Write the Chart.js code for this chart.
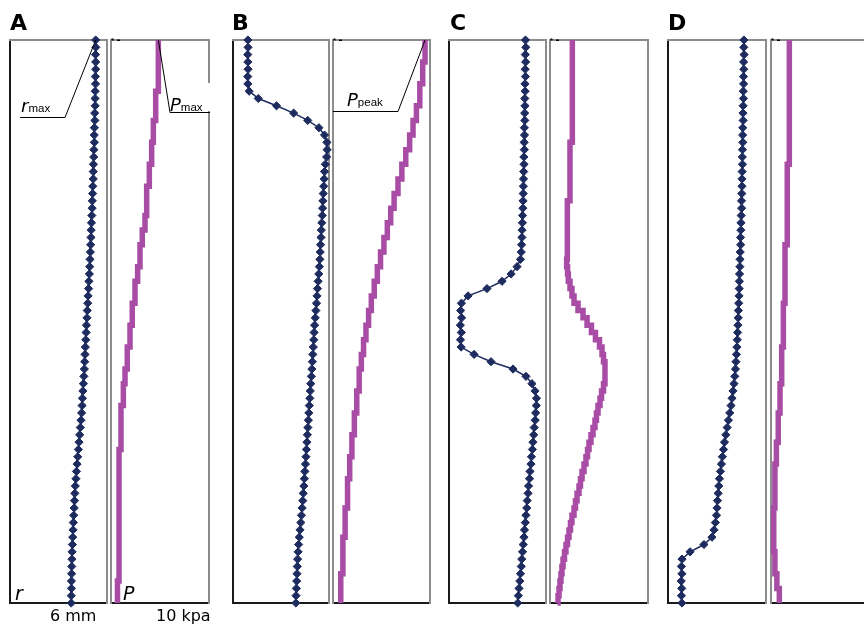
<!DOCTYPE html>
<html>
<head>
<meta charset="utf-8">
<script src="https://cdn.jsdelivr.net/npm/chart.js@4.4.1/dist/chart.umd.min.js"></script>
<style>
  html, body { margin: 0; padding: 0; background: #fff; }
  body { width: 864px; height: 628px; position: relative; overflow: hidden; font-family: 'DejaVu Sans', Verdana, sans-serif; }
  canvas { position: absolute; }
  .txt { position: absolute; line-height: 1; white-space: nowrap; color: #000; }
  .panel { font-weight: bold; }
  .var { font-style: italic; }
  .sub { font-family: 'Liberation Sans', Arial, sans-serif; font-size: 11.5px; font-style: normal; }
  .cover { position: absolute; background: #fff; }
</style>
</head>
<body>
<script>
// === Data (depth steps from top of segment to bottom) ===
const DEPTH_STEPS = Array.from({ length: 78 }, (_, i) => i);

// radius profiles, mm
const A_R = [
  5.30, 5.31, 5.29, 5.30, 5.30, 5.28, 5.29, 5.27, 5.26, 5.27,
  5.24, 5.25, 5.22, 5.21, 5.22, 5.19, 5.18, 5.16, 5.15, 5.15,
  5.12, 5.11, 5.09, 5.08, 5.06, 5.04, 5.02, 5.01, 4.99, 4.97,
  4.95, 4.93, 4.91, 4.88, 4.86, 4.83, 4.81, 4.78, 4.76, 4.73,
  4.71, 4.69, 4.66, 4.64, 4.62, 4.60, 4.57, 4.54, 4.51, 4.48,
  4.46, 4.43, 4.39, 4.35, 4.31, 4.27, 4.23, 4.19, 4.15, 4.11,
  4.08, 4.04, 4.01, 3.99, 3.97, 3.94, 3.92, 3.90, 3.88, 3.86,
  3.84, 3.83, 3.82, 3.81, 3.80, 3.80, 3.79, 3.79
];
const B_R = [
  0.93, 0.94, 0.92, 0.93, 0.94, 0.92, 0.93, 1.01, 1.58, 2.72,
  3.79, 4.67, 5.37, 5.72, 5.87, 5.88, 5.85, 5.77, 5.72, 5.70,
  5.67, 5.64, 5.62, 5.60, 5.58, 5.55, 5.52, 5.50, 5.47, 5.45,
  5.43, 5.40, 5.36, 5.32, 5.28, 5.25, 5.22, 5.18, 5.14, 5.10,
  5.07, 5.05, 5.02, 4.99, 4.96, 4.93, 4.90, 4.86, 4.83, 4.80,
  4.77, 4.74, 4.71, 4.68, 4.65, 4.62, 4.59, 4.56, 4.53, 4.49,
  4.46, 4.43, 4.39, 4.36, 4.32, 4.28, 4.24, 4.19, 4.14, 4.10,
  4.07, 4.04, 4.02, 4.00, 3.98, 3.96, 3.94, 3.93
];
const C_R = [
  4.73, 4.75, 4.72, 4.74, 4.71, 4.73, 4.70, 4.71, 4.69, 4.70,
  4.68, 4.69, 4.66, 4.67, 4.65, 4.66, 4.63, 4.64, 4.62, 4.61,
  4.60, 4.59, 4.58, 4.57, 4.55, 4.54, 4.52, 4.51, 4.49, 4.47,
  4.42, 4.21, 3.84, 3.28, 2.35, 1.18, 0.77, 0.72, 0.78, 0.70,
  0.76, 0.71, 0.75, 1.55, 2.60, 3.96, 4.76, 5.13, 5.32, 5.41,
  5.40, 5.36, 5.33, 5.27, 5.24, 5.19, 5.16, 5.10, 5.07, 5.01,
  4.98, 4.92, 4.89, 4.84, 4.81, 4.76, 4.72, 4.67, 4.64, 4.59,
  4.55, 4.50, 4.47, 4.42, 4.38, 4.33, 4.29, 4.25
];
const D_R = [
  4.65, 4.64, 4.66, 4.63, 4.64, 4.62, 4.63, 4.61, 4.62, 4.60,
  4.59, 4.60, 4.58, 4.57, 4.58, 4.56, 4.55, 4.56, 4.54, 4.53,
  4.53, 4.52, 4.50, 4.51, 4.48, 4.47, 4.46, 4.44, 4.45, 4.42,
  4.41, 4.40, 4.38, 4.37, 4.36, 4.35, 4.33, 4.31, 4.30, 4.28,
  4.26, 4.24, 4.22, 4.19, 4.16, 4.13, 4.09, 4.04, 3.98, 3.92,
  3.86, 3.78, 3.70, 3.62, 3.54, 3.46, 3.40, 3.33, 3.27, 3.21,
  3.15, 3.11, 3.07, 3.03, 3.00, 2.97, 2.90, 2.82, 2.69, 2.20,
  1.35, 0.86, 0.82, 0.85, 0.81, 0.84, 0.82, 0.85
];

// pressure profiles, kPa
const A_P = [
  4.83, 4.83, 4.83, 4.83, 4.83, 4.83, 4.83, 4.56, 4.56, 4.56,
  4.56, 4.32, 4.32, 4.32, 4.15, 4.15, 4.15, 3.91, 3.91, 3.91,
  3.64, 3.64, 3.64, 3.64, 3.47, 3.47, 3.19, 3.19, 2.96, 2.96,
  2.96, 2.72, 2.72, 2.45, 2.45, 2.45, 2.17, 2.17, 2.17, 1.94,
  1.94, 1.94, 1.66, 1.66, 1.66, 1.43, 1.43, 1.26, 1.26, 1.26,
  1.02, 1.02, 1.02, 1.02, 1.02, 1.02, 0.82, 0.82, 0.82, 0.82,
  0.82, 0.82, 0.82, 0.82, 0.82, 0.82, 0.82, 0.82, 0.82, 0.82,
  0.82, 0.82, 0.82, 0.82, 0.66, 0.66, 0.66, 0.66
];
const B_P = [
  9.49, 9.49, 9.49, 9.25, 9.25, 9.25, 8.95, 8.95, 8.95, 8.60,
  8.60, 8.25, 8.25, 7.90, 7.90, 7.50, 7.50, 7.10, 7.10, 6.70,
  6.70, 6.30, 6.30, 5.95, 5.95, 5.60, 5.60, 5.25, 5.25, 4.90,
  4.90, 4.57, 4.57, 4.25, 4.25, 3.95, 3.95, 3.67, 3.67, 3.40,
  3.40, 3.15, 3.15, 2.92, 2.92, 2.70, 2.70, 2.70, 2.45, 2.45,
  2.45, 2.20, 2.20, 2.20, 1.95, 1.95, 1.95, 1.72, 1.72, 1.72,
  1.50, 1.50, 1.50, 1.50, 1.25, 1.25, 1.25, 1.25, 1.02, 1.02,
  1.02, 1.02, 1.02, 0.80, 0.80, 0.80, 0.80, 0.80
];
const C_P = [
  2.28, 2.28, 2.28, 2.28, 2.28, 2.28, 2.28, 2.28, 2.28, 2.28,
  2.28, 2.28, 2.28, 2.28, 2.04, 2.04, 2.04, 2.04, 2.04, 2.04,
  2.04, 2.04, 1.77, 1.77, 1.77, 1.77, 1.77, 1.77, 1.77, 1.77,
  1.70, 1.79, 1.87, 2.04, 2.24, 2.45, 2.86, 3.37, 3.78, 4.23,
  4.64, 5.05, 5.31, 5.46, 5.61, 5.61, 5.61, 5.46, 5.26, 5.10,
  4.90, 4.74, 4.59, 4.39, 4.18, 3.98, 3.83, 3.67, 3.47, 3.27,
  3.11, 2.96, 2.76, 2.60, 2.45, 2.24, 2.09, 1.94, 1.79, 1.63,
  1.48, 1.33, 1.22, 1.12, 1.02, 0.92, 0.82, 0.77
];
const D_P = [
  1.87, 1.87, 1.87, 1.87, 1.87, 1.87, 1.87, 1.87, 1.87, 1.87,
  1.87, 1.87, 1.87, 1.87, 1.87, 1.87, 1.87, 1.66, 1.66, 1.66,
  1.66, 1.66, 1.66, 1.66, 1.66, 1.66, 1.66, 1.66, 1.43, 1.43,
  1.43, 1.43, 1.43, 1.43, 1.43, 1.43, 1.26, 1.26, 1.26, 1.26,
  1.26, 1.26, 1.09, 1.09, 1.09, 1.09, 1.09, 0.92, 0.92, 0.92,
  0.92, 0.74, 0.74, 0.74, 0.74, 0.55, 0.55, 0.55, 0.40, 0.40,
  0.40, 0.40, 0.40, 0.40, 0.28, 0.28, 0.28, 0.28, 0.28, 0.28,
  0.40, 0.40, 0.40, 0.60, 0.60, 0.85, 0.85, 0.85
];

const R_MAX_MM = 6;
const P_MAX_KPA = 10;

// === Layout & style ===
const NAVY = '#1d2b5f';
const MAGENTA = '#a84ca5';
const GRAY = '#8c8c8c';
const BLACK = '#1a1a1a';
const BOX_TOP = 40;
const BOX_BOTTOM = 603;
const PAD = 10;

const panels = [
  { r: A_R, p: A_P, rBox: [10, 107], pBox: [111, 209] },
  { r: B_R, p: B_P, rBox: [233, 329], pBox: [333, 430] },
  { r: C_R, p: C_P, rBox: [449, 546], pBox: [550, 648] },
  { r: D_R, p: D_P, rBox: [668, 766], pBox: [771, 869] }
];

// leader line from the first (top) point of a series to its label
function leaderPlugin(path) {
  return {
    id: 'leader',
    afterDraw(chart) {
      const { ctx, chartArea: a } = chart;
      const pt = chart.getDatasetMeta(0).data[0];
      ctx.save();
      ctx.strokeStyle = '#000';
      ctx.lineWidth = 1;
      ctx.beginPath();
      ctx.moveTo(pt.x, pt.y);
      path.forEach(([dx, dy]) => ctx.lineTo(a.left + dx, a.top + dy));
      ctx.stroke();
      ctx.restore();
    }
  };
}

// little black marks at the top-left corner of the pressure boxes
const cornerMarks = {
  id: 'cornerMarks',
  afterDraw(chart) {
    const { ctx, chartArea: a } = chart;
    ctx.save();
    ctx.fillStyle = '#000';
    ctx.fillRect(a.left + 0.5, a.top - 1.5, 2, 2);
    ctx.fillRect(a.left + 6, a.top - 0.5, 3, 1.5);
    ctx.restore();
  }
};

function hiddenAxis(extra) {
  return Object.assign({
    grid: { display: false, drawTicks: false },
    ticks: { display: false }
  }, extra);
}

function makeProfile(box, values, kind, plugins) {
  const canvas = document.createElement('canvas');
  const w = box[1] - box[0];
  const h = BOX_BOTTOM - BOX_TOP;
  canvas.width = w + 2 * PAD;
  canvas.height = h + 2 * PAD;
  canvas.style.left = (box[0] - PAD) + 'px';
  canvas.style.top = (BOX_TOP - PAD) + 'px';
  document.body.appendChild(canvas);

  const isR = kind === 'r';
  const dataset = isR ? {
    data: values,
    borderColor: NAVY,
    borderWidth: 1.5,
    pointStyle: 'rectRot',
    pointRadius: 4.1,
    pointBackgroundColor: NAVY,
    pointBorderColor: NAVY,
    pointBorderWidth: 1,
    clip: false,
    xAxisID: 'x',
    yAxisID: 'y'
  } : {
    data: values,
    borderColor: MAGENTA,
    borderWidth: 5.5,
    pointRadius: 0,
    stepped: 'after',
    borderJoinStyle: 'miter',
    borderCapStyle: 'butt',
    clip: false,
    xAxisID: 'x',
    yAxisID: 'y'
  };

  return new Chart(canvas, {
    type: 'line',
    data: { labels: DEPTH_STEPS, datasets: [dataset] },
    options: {
      indexAxis: 'y',
      responsive: false,
      animation: false,
      layout: { padding: PAD, autoPadding: false },
      plugins: { legend: { display: false }, tooltip: { enabled: false } },
      scales: {
        x: hiddenAxis({ type: 'linear', min: 0, max: isR ? R_MAX_MM : P_MAX_KPA, position: 'bottom',
          border: { color: BLACK, width: 2 } }),
        y: hiddenAxis({ type: 'category', position: 'left',
          border: { color: isR ? BLACK : GRAY, width: 2 } }),
        xTop: hiddenAxis({ axis: 'x', type: 'linear', min: 0, max: 1, position: 'top',
          border: { color: GRAY, width: 2 } }),
        yRight: hiddenAxis({ axis: 'y', type: 'linear', min: 0, max: 1, position: 'right',
          border: { color: GRAY, width: 2 } })
      }
    },
    plugins: plugins || []
  });
}

panels.forEach((pn, i) => {
  const rPlugins = i === 0 ? [leaderPlugin([[55, 77.5], [10, 77.5]])] : [];
  let pPlugins = [cornerMarks];
  if (i === 0) pPlugins.push(leaderPlugin([[59, 72.5], [99, 72.5]]));
  if (i === 1) pPlugins.push(leaderPlugin([[65, 71.5], [0, 71.5]]));
  makeProfile(pn.rBox, pn.r, 'r', rPlugins);
  makeProfile(pn.pBox, pn.p, 'p', pPlugins);
});

// === Text ===
function addText(html, cls, x, baseline, size) {
  const d = document.createElement('div');
  d.className = 'txt ' + cls;
  d.innerHTML = html;
  d.style.fontSize = size + 'px';
  d.style.left = x + 'px';
  d.style.top = (baseline - 0.846 * size) + 'px';
  document.body.appendChild(d);
}

// gap in the right border of A's pressure box behind the label
const cover = document.createElement('div');
cover.className = 'cover';
Object.assign(cover.style, { left: '204px', top: '83px', width: '10px', height: '28px' });
document.body.appendChild(cover);

addText('A', 'panel', 10, 31, 22);
addText('B', 'panel', 232, 31, 22);
addText('C', 'panel', 450, 31, 22);
addText('D', 'panel', 668, 31, 22);

addText('r<span class="sub">max</span>', 'var', 21, 112.5, 18);
addText('P<span class="sub">max</span>', 'var', 170, 111, 18);
addText('P<span class="sub">peak</span>', 'var', 347, 106, 18);

addText('r', 'var', 15, 600, 19);
addText('P', 'var', 123, 600, 19);
addText('6 mm', '', 50, 622, 16);
addText('10 kpa', '', 156, 622, 16);
</script>
</body>
</html>
